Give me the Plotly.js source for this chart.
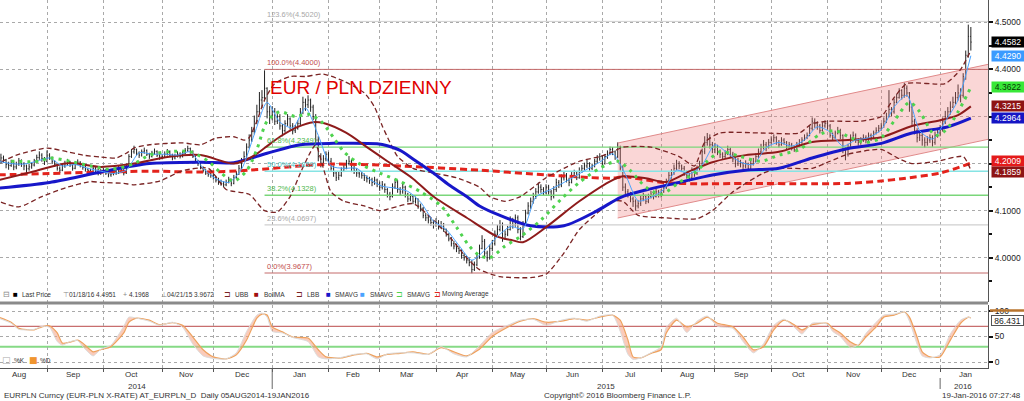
<!DOCTYPE html>
<html><head><meta charset="utf-8">
<script src="https://cdn.plot.ly/plotly-3.0.1.min.js"></script>
<style>html,body{margin:0;padding:0;background:#fff;}#chart{width:1024px;height:401px;}</style>
</head><body><div id="chart"></div>
<script>
// ---------- DATA (trading-day index 0 = 05AUG2014 ... 380 = 19JAN2016) ----------
const high = [
4.214,4.221,4.217,4.210,4.204,4.208,4.205,4.204,4.212,4.209,4.203,4.198,4.199,4.203,4.210,4.219,4.226,4.222,4.214,
4.228,4.222,4.215,4.207,4.200,4.194,4.199,4.206,4.210,4.206,4.198,4.204,4.209,4.205,4.199,4.195,4.191,4.189,4.194,4.193,4.189,4.189,
4.191,4.188,4.183,4.184,4.188,4.186,4.196,4.194,4.188,4.200,4.220,4.231,4.238,4.232,4.226,4.230,4.234,4.230,4.223,4.227,4.232,4.228,4.221,
4.220,4.226,4.231,4.228,4.221,4.221,4.226,4.224,4.227,4.233,4.238,4.234,4.228,4.217,4.208,4.202,4.194,4.188,4.184,4.181,
4.180,4.174,4.170,4.166,4.163,4.166,4.172,4.168,4.176,4.184,4.197,4.212,4.226,4.243,4.262,4.278,4.302,4.325,4.352,4.356,4.398,4.362,4.322,
4.322,4.318,4.312,4.305,4.284,4.292,4.305,4.298,4.286,4.282,4.292,4.318,4.342,4.338,4.345,4.338,4.325,4.305,4.258,4.222,4.218,4.226,
4.225,4.212,4.196,4.184,4.183,4.192,4.198,4.208,4.216,4.209,4.195,4.190,4.186,4.182,4.179,4.175,4.172,4.170,4.172,4.168,
4.162,4.163,4.158,4.148,4.140,4.158,4.168,4.165,4.150,4.158,4.153,4.138,4.136,4.132,4.130,4.126,4.115,4.108,4.095,4.090,4.085,4.080,
4.084,4.080,4.078,4.074,4.062,4.052,4.044,4.036,4.030,4.024,4.018,4.010,4.004,4.000,3.995,3.992,4.008,4.028,4.048,4.040,4.015,4.028,
4.038,4.058,4.070,4.080,4.075,4.058,4.068,4.088,4.085,4.092,4.090,4.065,4.078,4.102,4.118,4.128,4.138,4.148,4.160,4.156,4.150,
4.156,4.155,4.144,4.152,4.168,4.165,4.177,4.184,4.180,4.170,4.182,4.187,4.184,4.192,4.197,4.202,4.208,4.203,4.200,4.210,4.218,4.222,
4.218,4.220,4.228,4.236,4.235,4.228,4.245,4.238,4.196,4.158,4.146,4.140,4.130,4.124,4.122,4.132,4.138,4.134,4.136,4.142,4.140,4.146,4.144,
4.146,4.156,4.168,4.182,4.188,4.198,4.208,4.205,4.198,4.195,4.185,4.180,4.192,4.190,4.196,4.206,4.232,4.258,4.265,4.262,4.246,
4.244,4.240,4.230,4.224,4.228,4.238,4.234,4.225,4.214,4.212,4.208,4.203,4.207,4.202,4.207,4.212,4.222,4.232,4.242,4.250,4.246,4.252,
4.258,4.262,4.258,4.250,4.256,4.254,4.248,4.246,4.244,4.238,4.246,4.252,4.256,4.262,4.266,4.282,4.298,4.296,4.290,4.284,4.288,4.292,
4.292,4.284,4.266,4.270,4.278,4.274,4.262,4.235,4.242,4.262,4.268,4.264,4.254,4.256,4.262,4.260,4.266,4.264,4.270,4.277,4.282,
4.286,4.298,4.308,4.356,4.320,4.338,4.348,4.360,4.358,4.372,4.366,4.352,4.328,4.295,4.275,4.268,4.265,4.256,4.258,4.262,4.260,4.268,4.272,
4.282,4.298,4.312,4.320,4.332,4.342,4.352,4.368,4.360,4.392,4.440,4.4951,4.490
];
const low = [
4.196,4.200,4.202,4.190,4.187,4.193,4.186,4.188,4.195,4.193,4.186,4.180,4.185,4.189,4.194,4.202,4.208,4.204,4.197,
4.203,4.208,4.199,4.193,4.185,4.180,4.184,4.191,4.196,4.193,4.185,4.188,4.197,4.192,4.187,4.183,4.180,4.177,4.181,4.181,4.175,4.176,
4.180,4.176,4.171,4.172,4.175,4.176,4.178,4.182,4.175,4.178,4.193,4.212,4.221,4.217,4.212,4.215,4.221,4.216,4.210,4.213,4.219,4.214,4.208,
4.209,4.212,4.217,4.214,4.207,4.209,4.213,4.211,4.213,4.220,4.225,4.221,4.212,4.201,4.195,4.188,4.181,4.176,4.172,4.170,
4.166,4.160,4.155,4.153,4.150,4.152,4.158,4.152,4.156,4.168,4.176,4.188,4.204,4.212,4.232,4.246,4.262,4.284,4.305,4.318,4.332,4.296,4.284,
4.292,4.282,4.284,4.272,4.258,4.266,4.280,4.272,4.262,4.265,4.272,4.280,4.305,4.312,4.318,4.310,4.292,4.240,4.205,4.192,4.196,4.205,
4.198,4.185,4.172,4.163,4.165,4.172,4.182,4.188,4.196,4.182,4.178,4.172,4.170,4.168,4.163,4.160,4.157,4.152,4.155,4.150,
4.142,4.145,4.138,4.128,4.122,4.128,4.146,4.138,4.132,4.136,4.128,4.118,4.120,4.114,4.115,4.104,4.098,4.084,4.078,4.073,4.068,4.062,
4.066,4.060,4.062,4.055,4.045,4.035,4.024,4.018,4.012,4.008,3.998,3.994,3.988,3.982,3.9672,3.972,3.982,3.998,4.018,4.002,3.992,3.996,
4.014,4.026,4.048,4.056,4.034,4.038,4.046,4.058,4.062,4.066,4.052,4.037,4.042,4.068,4.092,4.104,4.115,4.125,4.136,4.138,4.132,
4.135,4.134,4.122,4.126,4.140,4.148,4.150,4.164,4.160,4.152,4.158,4.170,4.165,4.168,4.180,4.186,4.190,4.185,4.186,4.192,4.200,4.206,
4.194,4.198,4.210,4.218,4.218,4.208,4.212,4.185,4.142,4.132,4.128,4.118,4.108,4.100,4.105,4.110,4.120,4.114,4.116,4.126,4.124,4.128,4.128,
4.128,4.138,4.146,4.156,4.168,4.176,4.186,4.188,4.182,4.174,4.168,4.162,4.165,4.172,4.176,4.185,4.196,4.220,4.238,4.232,4.222,
4.222,4.218,4.212,4.208,4.210,4.218,4.212,4.203,4.192,4.195,4.192,4.186,4.190,4.185,4.186,4.196,4.204,4.212,4.222,4.230,4.226,4.232,
4.240,4.245,4.240,4.234,4.238,4.240,4.230,4.232,4.228,4.225,4.228,4.236,4.242,4.248,4.252,4.258,4.270,4.276,4.272,4.264,4.268,4.276,
4.272,4.255,4.248,4.252,4.262,4.252,4.222,4.207,4.215,4.232,4.250,4.244,4.238,4.240,4.246,4.243,4.248,4.248,4.252,4.262,4.266,
4.270,4.276,4.286,4.298,4.300,4.306,4.328,4.338,4.336,4.340,4.342,4.310,4.282,4.262,4.245,4.248,4.238,4.234,4.238,4.244,4.236,4.240,4.255,
4.258,4.268,4.284,4.296,4.304,4.318,4.326,4.334,4.330,4.340,4.378,4.425,4.440
];
const close = [
4.205,4.212,4.208,4.198,4.196,4.202,4.193,4.199,4.206,4.200,4.195,4.189,4.193,4.197,4.205,4.213,4.218,4.211,4.205,
4.218,4.212,4.204,4.198,4.190,4.186,4.195,4.200,4.204,4.197,4.190,4.200,4.203,4.197,4.192,4.188,4.185,4.183,4.190,4.186,4.180,4.184,
4.186,4.180,4.176,4.178,4.183,4.180,4.190,4.186,4.180,4.195,4.215,4.225,4.230,4.222,4.218,4.225,4.228,4.220,4.215,4.222,4.226,4.218,4.214,
4.215,4.220,4.225,4.218,4.212,4.216,4.220,4.215,4.222,4.228,4.232,4.226,4.215,4.205,4.200,4.192,4.185,4.180,4.178,4.175,
4.170,4.165,4.160,4.158,4.155,4.160,4.165,4.158,4.170,4.178,4.190,4.205,4.215,4.235,4.250,4.268,4.290,4.310,4.335,4.340,4.360,4.310,4.300,
4.310,4.290,4.300,4.280,4.270,4.285,4.295,4.280,4.270,4.275,4.285,4.310,4.330,4.325,4.335,4.320,4.300,4.250,4.215,4.200,4.210,4.220,
4.205,4.190,4.180,4.170,4.175,4.185,4.190,4.200,4.205,4.190,4.185,4.180,4.178,4.175,4.170,4.168,4.165,4.160,4.165,4.158,
4.150,4.155,4.145,4.135,4.130,4.150,4.160,4.145,4.140,4.150,4.135,4.125,4.130,4.120,4.125,4.110,4.105,4.090,4.085,4.080,4.075,4.070,
4.075,4.065,4.070,4.060,4.050,4.040,4.030,4.025,4.020,4.015,4.005,4.000,3.995,3.990,3.975,3.985,4.000,4.020,4.035,4.010,4.000,4.020,
4.030,4.050,4.060,4.070,4.040,4.050,4.060,4.080,4.070,4.085,4.060,4.045,4.070,4.095,4.110,4.120,4.130,4.140,4.150,4.145,4.140,
4.150,4.140,4.130,4.145,4.160,4.155,4.170,4.175,4.165,4.160,4.175,4.180,4.170,4.185,4.190,4.195,4.200,4.190,4.195,4.205,4.210,4.215,
4.200,4.215,4.220,4.230,4.225,4.215,4.235,4.190,4.150,4.140,4.135,4.125,4.120,4.110,4.115,4.125,4.130,4.120,4.130,4.135,4.130,4.140,4.135,
4.140,4.150,4.160,4.175,4.180,4.190,4.200,4.195,4.190,4.180,4.175,4.170,4.185,4.180,4.190,4.200,4.225,4.245,4.255,4.240,4.230,
4.235,4.225,4.220,4.215,4.220,4.230,4.220,4.210,4.200,4.205,4.200,4.195,4.200,4.190,4.200,4.205,4.215,4.225,4.235,4.240,4.235,4.245,
4.250,4.255,4.245,4.240,4.250,4.245,4.235,4.240,4.235,4.230,4.240,4.245,4.250,4.255,4.260,4.275,4.290,4.285,4.280,4.270,4.280,4.285,
4.280,4.260,4.255,4.265,4.270,4.260,4.230,4.220,4.235,4.255,4.260,4.250,4.245,4.250,4.255,4.250,4.260,4.255,4.265,4.270,4.275,
4.280,4.290,4.300,4.315,4.310,4.330,4.340,4.355,4.345,4.360,4.350,4.320,4.290,4.270,4.255,4.260,4.250,4.245,4.250,4.255,4.245,4.260,4.265,
4.270,4.290,4.300,4.310,4.320,4.330,4.340,4.350,4.345,4.385,4.430,4.470,4.458
];

// indicator samples (trading-day index -> value)
const sma5Idx = [0,5,10,15,20,25,30,35,40,45,50,55,60,65,70,75,80,85,90,95,100,105,110,115,120,125,130,135,140,145,150,155,160,165,170,175,180,185,190,195,200,205,210,215,220,225,230,235,240,245,250,255,260,265,270,275,280,285,290,295,300,305,310,315,320,325,330,335,340,345,350,355,360,365,370,375,380];
const sma5Val = [4.205,4.200,4.199,4.205,4.212,4.195,4.198,4.190,4.184,4.179,4.186,4.223,4.220,4.220,4.218,4.225,4.190,4.168,4.160,4.188,4.262,4.330,4.288,4.276,4.318,4.260,4.195,4.190,4.190,4.167,4.152,4.148,4.141,4.118,4.078,4.060,4.026,3.995,4.016,4.045,4.066,4.062,4.129,4.143,4.157,4.172,4.188,4.203,4.221,4.177,4.121,4.128,4.145,4.186,4.178,4.197,4.240,4.222,4.203,4.198,4.234,4.245,4.237,4.250,4.278,4.267,4.237,4.250,4.255,4.272,4.320,4.345,4.270,4.252,4.290,4.335,4.429];

const sma10Idx = [5,16,20,28,36,44,53,59,66,75,82,87,92,97,101,105,110,116,121,126,131,135,141,149,157,165,173,179,184,188,192,198,204,212,220,227,235,242,247,253,259,266,272,277,282,290,298,305,313,321,327,333,339,345,350,356,360,366,370,375,380];
const sma10Val = [4.205,4.205,4.212,4.205,4.195,4.188,4.200,4.218,4.225,4.225,4.205,4.180,4.163,4.185,4.230,4.290,4.310,4.300,4.305,4.290,4.255,4.225,4.200,4.180,4.162,4.140,4.110,4.065,4.025,4.005,4.000,4.025,4.045,4.080,4.125,4.160,4.190,4.205,4.185,4.150,4.135,4.160,4.180,4.205,4.225,4.215,4.205,4.218,4.230,4.262,4.270,4.255,4.245,4.255,4.290,4.330,4.310,4.260,4.270,4.310,4.3622];

const sma50Idx = [0,20,40,59,79,92,105,118,131,148,152,157,162,170,176,183,188,196,208,221,234,243,253,266,279,292,305,318,332,345,357,371,380];
const sma50Val = [4.148,4.160,4.182,4.200,4.203,4.202,4.222,4.240,4.243,4.242,4.238,4.228,4.210,4.180,4.155,4.130,4.110,4.090,4.068,4.068,4.100,4.128,4.144,4.160,4.176,4.186,4.190,4.212,4.232,4.243,4.265,4.278,4.2964];

const maIdx = [0,20,40,59,79,98,118,131,157,188,214,240,244,260,273,292,318,332,345,353,368,380];
const maVal = [4.176,4.179,4.182,4.184,4.182,4.186,4.195,4.199,4.195,4.186,4.176,4.169,4.172,4.160,4.157,4.158,4.157,4.158,4.163,4.168,4.180,4.2009];

const bollIdx = [0,13,27,40,53,66,79,92,99,104,110,117,123,127,136,144,152,162,170,183,195,201,205,214,227,240,244,253,261,271,279,292,305,318,332,345,357,368,375,380];
const bollVal = [4.165,4.182,4.201,4.193,4.200,4.214,4.218,4.200,4.214,4.233,4.257,4.278,4.288,4.286,4.265,4.235,4.205,4.168,4.130,4.085,4.045,4.037,4.033,4.065,4.120,4.165,4.173,4.169,4.161,4.186,4.203,4.218,4.225,4.246,4.250,4.256,4.280,4.292,4.303,4.3215];

const ubbIdx = [1,7,19,27,33,40,46,50,53,59,72,79,85,92,96,98,101,104,108,114,120,127,135,143,147,150,153,156,162,170,179,188,192,198,204,214,221,227,235,240,244,255,266,272,276,282,298,313,318,325,337,345,350,355,370,376,380];
const ubbVal = [4.203,4.218,4.233,4.225,4.218,4.214,4.212,4.222,4.233,4.240,4.244,4.240,4.254,4.257,4.250,4.255,4.290,4.335,4.370,4.385,4.385,4.390,4.375,4.350,4.320,4.280,4.245,4.215,4.190,4.180,4.170,4.150,4.130,4.120,4.130,4.170,4.190,4.205,4.215,4.225,4.235,4.235,4.215,4.195,4.245,4.265,4.265,4.265,4.285,4.290,4.290,4.300,4.340,4.370,4.370,4.400,4.440];

const lbbIdx = [1,8,17,27,36,40,49,53,63,72,82,89,98,104,109,114,118,122,124,127,130,135,143,149,162,170,177,183,188,196,208,214,221,227,234,240,244,250,260,273,279,287,299,305,318,325,332,345,352,357,367,377,380];
const lbbVal = [4.118,4.108,4.130,4.150,4.162,4.160,4.158,4.155,4.163,4.185,4.190,4.145,4.135,4.100,4.097,4.130,4.180,4.225,4.240,4.190,4.140,4.120,4.110,4.100,4.115,4.080,4.040,4.000,3.975,3.960,3.958,3.965,4.010,4.060,4.095,4.120,4.120,4.090,4.085,4.083,4.100,4.140,4.180,4.190,4.190,4.205,4.220,4.230,4.210,4.200,4.205,4.215,4.1859];

// regression channel (drawn object)
const chanIdx = [242, 386.7];
const chanUpper = [4.2437, 4.4107];
const chanLower = [4.0845, 4.2515];

// Fibonacci retracement
const fibStartIdx = 104;
const fibLabels = ['123.6%','100.0%','61.8%','50.0%','38.2%','23.6%','0.0%'];
const fibValues = [4.5020, 4.4000, 4.2349, 4.1839, 4.1328, 4.0697, 3.9677];

// stochastic
const stIdx = [0,5,8,14,17,20,23,25,28,31,33,37,40,44,49,51,54,59,63,68,72,76,80,84,89,93,97,101,103,105,107,111,115,121,125,128,134,139,144,148,152,157,162,168,173,178,183,188,193,199,204,209,214,220,225,230,235,240,243,246,248,251,255,259,261,265,269,273,277,281,287,291,295,299,303,307,311,314,318,324,326,329,333,336,339,343,346,350,354,356,359,361,364,368,372,376,379,380];
const stD = [88,78,66,63,69,71,57,37,39,43,37,20,24,30,57,78,86,82,73,77,72,49,24,10,6,14,43,86,94,92,69,59,49,47,24,10,8,14,17,10,15,17,20,15,28,20,12,25,50,68,80,85,78,80,85,82,88,92,82,43,10,8,17,24,57,82,69,76,88,76,69,49,24,30,63,82,73,63,73,76,66,57,39,33,49,69,88,92,98,88,49,20,10,10,43,76,88,86.431];
const stK = [86,76,64,64,70,68,40,33,40,42,30,12,25,33,70,88,86,80,72,78,68,35,12,7,6,18,60,92,96,88,60,57,48,40,10,6,9,15,16,6,16,18,18,15,30,16,10,32,58,72,82,84,72,82,86,80,90,92,60,15,5,8,18,30,68,86,58,80,90,70,66,40,18,36,72,84,68,55,76,74,60,50,28,34,56,78,92,94,98,80,35,12,8,14,55,82,88,86];

// axis categories
const monthStart = [-2,19,41,64,84,107,129,149,171,193,214,236,259,280,302,324,345,368,389];
const monthNames = ['Aug','Sep','Oct','Nov','Dec','Jan','Feb','Mar','Apr','May','Jun','Jul','Aug','Sep','Oct','Nov','Dec','Jan'];
const yearLabels = ['2014','2015','2016'];
const priceTicks = [4.0,4.1,4.2,4.3,4.4,4.5];
const priceTickText = ['4.0000','4.1000','','','4.4000','4.5000'];   // 4.2/4.3 are covered by value boxes
const stochTicks = [0,50,100];

// right-side value labels
const lastVals = [4.4582, 4.4290, 4.3622, 4.3215, 4.2964, 4.2009, 4.1859];
const stochLast = 86.431;

// ---------- LAYOUT HELPERS ----------
const FONT = 'Liberation Sans, Arial, sans-serif';
const MB = 33, MR = 36, PW = 1024 - MR, PH = 401 - MB;
const px = x => x / PW;
const py = y => 1 - y / PH;
const PRICE_TOP = 4.5 + 22.3/471, PRICE_BOT = 4.5 - (302 - 22.3)/471;
const ST_TOP = (362 - 305)/0.51, ST_BOT = (362 - 368)/0.51;

const idxAll = close.map((_, i) => i);
const open = close.map((c, i) => i ? close[i-1] : c);
const xEnd = 386.7;

const traces = [];
traces.push({x:[chanIdx[0],chanIdx[1],chanIdx[1],chanIdx[0],chanIdx[0]], y:[chanUpper[0],chanUpper[1],chanLower[1],chanLower[0],chanUpper[0]],
  type:'scatter', mode:'lines', fill:'toself', fillcolor:'rgba(238,120,120,0.30)', line:{width:0}, hoverinfo:'skip'});
traces.push({x:chanIdx, y:chanUpper, type:'scatter', mode:'lines', line:{color:'#e08a8a', width:1}, hoverinfo:'skip'});
traces.push({x:chanIdx, y:chanLower, type:'scatter', mode:'lines', line:{color:'#e08a8a', width:1}, hoverinfo:'skip'});
const fibLineColors = ['#cfcfcf','#c46a6a','#7ad67a','#86e4e4','#7ad67a','#cfcfcf','#c46a6a'];
const fibTextColors = ['#a8a8a8','#c24b4b','#4db84d','#3fc4c4','#4db84d','#a8a8a8','#c24b4b'];
const fibWidths = [1,1,1.4,1.6,1.4,1.2,1];
fibValues.forEach((v,k)=>{
  traces.push({x:[fibStartIdx, xEnd], y:[v,v], type:'scatter', mode:'lines', line:{color:fibLineColors[k], width:fibWidths[k]}, hoverinfo:'skip'});
});
traces.push({x:maIdx, y:maVal, type:'scatter', mode:'lines', line:{color:'#e3231c', width:3, dash:'7px,4px', shape:'spline', smoothing:0.8}, hoverinfo:'skip'});
traces.push({type:'ohlc', x:idxAll, open:open, high:high, low:low, close:close,
  increasing:{line:{color:'#222', width:1}}, decreasing:{line:{color:'#222', width:1}}, tickwidth:0.3, hoverinfo:'skip'});
traces.push({x:ubbIdx, y:ubbVal, type:'scatter', mode:'lines', line:{color:'#7a2424', width:1.3, dash:'5px,3px', shape:'spline', smoothing:0.6}, hoverinfo:'skip'});
traces.push({x:lbbIdx, y:lbbVal, type:'scatter', mode:'lines', line:{color:'#7a2424', width:1.3, dash:'5px,3px', shape:'spline', smoothing:0.6}, hoverinfo:'skip'});
traces.push({x:sma50Idx, y:sma50Val, type:'scatter', mode:'lines', line:{color:'#1717c9', width:3, shape:'spline', smoothing:0.8}, hoverinfo:'skip'});
traces.push({x:bollIdx, y:bollVal, type:'scatter', mode:'lines', line:{color:'#8e1b1b', width:2, shape:'spline', smoothing:0.8}, hoverinfo:'skip'});
traces.push({x:sma5Idx, y:sma5Val, type:'scatter', mode:'lines', line:{color:'#4aa3ff', width:1, shape:'spline', smoothing:0.7}, hoverinfo:'skip'});
traces.push({x:sma10Idx, y:sma10Val, type:'scatter', mode:'lines', line:{color:'#4fd34f', width:3, dash:'3px,5px', shape:'spline', smoothing:0.8}, hoverinfo:'skip'});
// stochastic
traces.push({x:stIdx, y:stD, type:'scatter', mode:'lines', xaxis:'x2', yaxis:'y2', line:{color:'#eea25e', width:1.2, shape:'spline', smoothing:0.6}, hoverinfo:'skip'});
traces.push({x:stIdx, y:stK, type:'scatter', mode:'lines', xaxis:'x2', yaxis:'y2', fill:'tonexty', fillcolor:'rgba(246,160,130,0.55)', line:{color:'#dcdcdc', width:1, shape:'spline', smoothing:0.6}, hoverinfo:'skip'});

// ---------- ANNOTATIONS ----------
const ann = [];
const T = (x, y, text, o={}) => Object.assign({xref:'paper', yref:'paper', x:px(x), y:py(y), text, showarrow:false,
  xanchor:'left', yanchor:'middle', font:{family:FONT, size:8, color:'#333'}}, o);

ann.push(T(268, 87, 'EUR / PLN DZIENNY', {font:{family:FONT, size:19, color:'#e00000'}}));
fibValues.forEach((v,k)=>{
  ann.push({xref:'x', yref:'y', x:fibStartIdx, y:v, text:fibLabels[k]+'('+v.toFixed(4)+')', showarrow:false,
    xanchor:'left', yanchor:'bottom', font:{family:FONT, size:7.5, color:fibTextColors[k]}});
});
const LY = 294;
const legendItems = [
  [1,'⊟','#888',8],[11,'■','#000',8],[20,'Last Price','#333',6.5],
  [61,'⊤','#888',7],[67,'01/18/16 4.4951','#333',6.5],
  [121,'+','#888',7],[127,'4.1968','#333',6.5],
  [159,'⊥','#888',7],[165,'04/21/15 3.9672','#333',6.5],
  [222,'⊐','#7a2424',8],[233,'UBB','#333',6.5],
  [252,'■','#a01010',8],[262,'BollMA','#333',6.5],
  [294,'⊐','#7a2424',8],[305,'LBB','#333',6.5],
  [324,'■','#1717c9',8],[333,'SMAVG','#333',6.5],
  [358,'■','#4aa3ff',8],[368,'SMAVG','#333',6.5],
  [394,'⊐','#4fd34f',8],[405,'SMAVG','#333',6.5],
  [432,'⊐','#e3231c',8],[440,'Moving Average','#333',6.5]
];
legendItems.forEach(([x,t,c,s])=> ann.push(T(x, LY, t, {font:{family:FONT, size:s, color:c}})));
ann.push(T(0, 360, '□', {font:{family:'DejaVu Sans', size:9, color:'#aaa'}}));
ann.push(T(12, 360, '%K', {font:{family:FONT, size:6.5, color:'#333'}}));
ann.push(T(27, 360, '■', {font:{family:'DejaVu Sans', size:9, color:'#f0952f'}}));
ann.push(T(38, 360, '%D', {font:{family:FONT, size:6.5, color:'#333'}}));

const lastBg = ['#000000','#3a9aff','#38e838','#8e1414','#1515c4','#e41a1a','#8e1414'];
const lastFg = ['#ffffff','#ffffff','#063806','#ffffff','#ffffff','#ffffff','#ffffff'];
const lastShift = [0,0,0,0,0,2,-2];
lastVals.forEach((v,k)=>{
  ann.push({xref:'paper', yref:'y', x:1, y:v, xanchor:'left', yanchor:'middle', xshift:3, yshift:lastShift[k], text:v.toFixed(4), showarrow:false,
    bgcolor:lastBg[k], font:{family:FONT, size:8.5, color:lastFg[k]}, borderpad:1, width:30, height:8, align:'center'});
});
ann.push({xref:'paper', yref:'y2', x:1, y:stochLast, xanchor:'left', yanchor:'middle', xshift:3, yshift:-3, text:stochLast.toFixed(3), showarrow:false,
  bgcolor:'#ffffff', bordercolor:'#555', borderwidth:1, font:{family:FONT, size:8.5, color:'#222'}, borderpad:0, width:31, height:9});

monthNames.forEach((m,k)=>{
  const mid = (monthStart[k] + monthStart[k+1] - 1)/2;
  ann.push({xref:'x2', yref:'paper', x:mid, y:py(374), text:m, showarrow:false, xanchor:'center', yanchor:'middle',
    font:{family:FONT, size:8, color:'#333'}});
});
const yearPx = [137, 606, 963];
yearLabels.forEach((t,k)=> ann.push(T(yearPx[k], 386, t, {xanchor:'center', font:{family:FONT, size:8, color:'#333'}})));
ann.push(T(2, 396, 'EURPLN Curncy (EUR-PLN X-RATE) AT_EURPLN_D&nbsp;&nbsp;Daily 05AUG2014-19JAN2016', {font:{family:FONT, size:8, color:'#333'}}));
ann.push(T(542, 396, 'Copyright© 2016 Bloomberg Finance L.P.', {font:{family:FONT, size:8, color:'#333'}}));
ann.push(T(1023, 396, '19-Jan-2016 07:27:48', {xanchor:'right', font:{family:FONT, size:8, color:'#333'}}));

// ---------- SHAPES ----------
const shapes = [
  {type:'line', xref:'paper', yref:'paper', x0:0, x1:1, y0:py(303), y1:py(303), line:{color:'#8a8a8a', width:3}},
  {type:'line', xref:'paper', yref:'paper', x0:px(990), x1:px(1024), y0:py(310.5), y1:py(310.5), line:{color:'#b8742e', width:2.5}},
  {type:'line', xref:'x2', yref:'paper', x0:monthStart[5], x1:monthStart[5], y0:py(369), y1:py(389), line:{color:'#666', width:1}},
  {type:'line', xref:'x2', yref:'paper', x0:monthStart[17], x1:monthStart[17], y0:py(378), y1:py(389), line:{color:'#666', width:1}},
  {type:'line', xref:'x2', yref:'y2', x0:0, x1:xEnd, y0:70, y1:70, line:{color:'#c86e6e', width:1.2}, layer:'below'},
  {type:'line', xref:'x2', yref:'y2', x0:0, x1:xEnd, y0:30, y1:30, line:{color:'#86da86', width:2}, layer:'below'}
];

const gridIdx = monthStart.slice(1, 18);
const minorPrice = [3.95,4.05,4.15,4.25,4.35,4.45];

const layout = {
  width:1024, height:401, margin:{l:0, r:MR, t:0, b:MB, pad:0},
  paper_bgcolor:'#ffffff', plot_bgcolor:'#ffffff', showlegend:false,
  font:{family:FONT, size:8, color:'#222'},
  xaxis:{domain:[0,1], anchor:'y', range:[0.63, xEnd], tickvals:gridIdx, showticklabels:false, ticks:'',
    showgrid:true, gridcolor:'#a9a9a9', griddash:'dot', gridwidth:1, zeroline:false, showline:false,
    rangeslider:{visible:false}, fixedrange:true},
  xaxis2:{domain:[0,1], anchor:'y2', matches:'x', range:[0.63, xEnd], tickvals:gridIdx, showticklabels:false,
    ticks:'outside', ticklen:3, tickcolor:'#555', showgrid:true, gridcolor:'#a9a9a9', griddash:'dot',
    zeroline:false, showline:true, linecolor:'#555', linewidth:1, rangeslider:{visible:false}},
  yaxis:{domain:[1-302/PH, 1], anchor:'x', side:'right', range:[PRICE_BOT, PRICE_TOP], tickvals:priceTicks, ticktext:priceTickText,
    ticks:'outside', ticklen:4, tickwidth:2, tickcolor:'#111', showline:true, linecolor:'#555', linewidth:1,
    showgrid:true, gridcolor:'#a9a9a9', griddash:'dot', zeroline:false, tickfont:{family:FONT, size:8.5, color:'#222'},
    minor:{tickvals:minorPrice, ticks:'outside', ticklen:3, tickcolor:'#111', showgrid:false}},
  yaxis2:{domain:[0, (PH-305)/PH], anchor:'x2', side:'right', range:[ST_BOT, ST_TOP], tickvals:stochTicks,
    ticks:'outside', ticklen:4, tickwidth:2, tickcolor:'#111', showline:true, linecolor:'#555', linewidth:1,
    showgrid:true, gridcolor:'#a9a9a9', griddash:'dot', zeroline:false, tickfont:{family:FONT, size:8.5, color:'#222'}},
  annotations:ann, shapes:shapes
};

Plotly.newPlot('chart', traces, layout, {staticPlot:true, displayModeBar:false});
</script></body></html>
